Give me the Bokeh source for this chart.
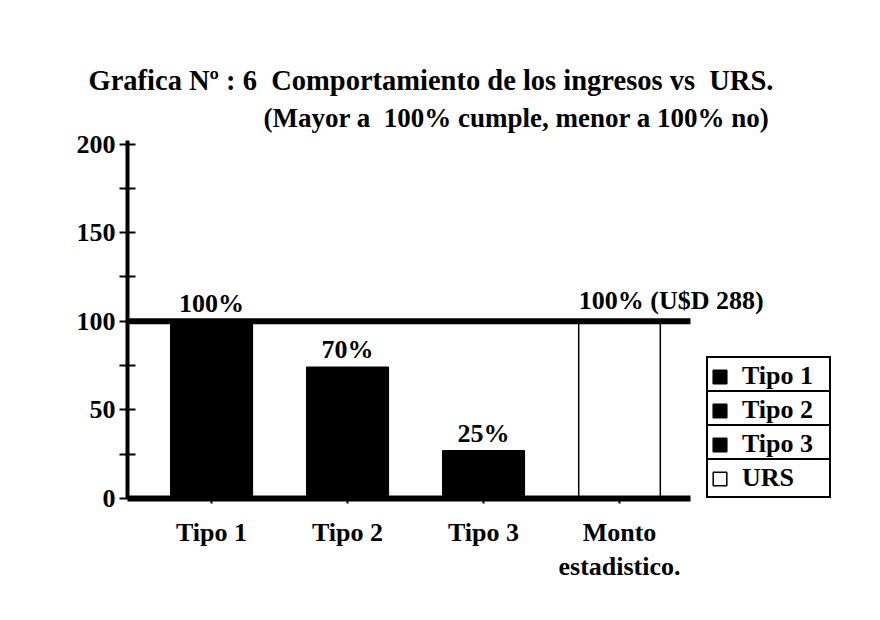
from bokeh.plotting import figure
from bokeh.models import (Range1d, LabelSet, Label, ColumnDataSource, Legend,
                          LegendItem, Title, FixedTicker)
from bokeh.embed import file_html
from bokeh.resources import INLINE

# ---- data ----
categories = ["Tipo 1", "Tipo 2", "Tipo 3", "Monto estadistico."]
tick_labels = ["Tipo 1", "Tipo 2", "Tipo 3", "Monto\nestadistico."]
legend_labels = ["Tipo 1", "Tipo 2", "Tipo 3", "URS"]
values = [100, 74, 27, 100]
bar_labels = ["100%", "70%", "25%"]
urs_label = "100% (U$D 288)"
urs_level = 100
y_ticks = [0, 50, 100, 150, 200]
y_minor = [25, 75, 125, 175]
bar_colors = ["black", "black", "black", "white"]
title_line1 = "Grafica N\u00ba : 6\u00a0 Comportamiento de los ingresos vs\u00a0 URS."
title_line2 = "(Mayor a\u00a0 100% cumple, menor a 100% no)"

FONT = "Liberation Serif"
FS = "26px"

xs = list(range(1, len(categories) + 1))
bar_w = 0.6
x_lo, x_hi = 0.382, 5.625      # view range (room on the right for the legend)
axis_end = 4.522               # where the drawn axis line / reference line stop

src = ColumnDataSource(dict(x=xs, top=values, color=bar_colors, cat=categories))
lab_src = ColumnDataSource(dict(x=xs[:3], y=values[:3], text=bar_labels))

p = figure(width=864, height=604, output_backend="svg", toolbar_location=None,
           x_range=Range1d(x_lo, x_hi), y_range=Range1d(0, 202),
           min_border_left=127, min_border_right=24, min_border_top=140,
           min_border_bottom=106)
p.grid.visible = False
p.outline_line_color = None
p.background_fill_color = "white"
p.border_fill_color = "white"

bars = p.vbar(x="x", top="top", width=bar_w, bottom=0, source=src,
              fill_color="color", line_color="black", line_width=1.5)

# reference line at 100 % (URS)
p.segment(x0=[x_lo], x1=[axis_end], y0=[urs_level], y1=[urs_level],
          line_color="black", line_width=6)

# axes
yax = p.yaxis[0]
yax.ticker = FixedTicker(ticks=y_ticks, minor_ticks=y_minor)
yax.axis_line_width = 4
yax.major_tick_in = 8
yax.major_tick_out = 8
yax.minor_tick_in = 8
yax.minor_tick_out = 8
yax.major_tick_line_width = 2
yax.minor_tick_line_width = 2
yax.major_label_standoff = 4

xax = p.xaxis[0]
xax.ticker = FixedTicker(ticks=xs)
xax.bounds = (x_lo, axis_end)
xax.major_label_overrides = {x: t for x, t in zip(xs, tick_labels)}
xax.axis_line_width = 6
xax.major_tick_in = 0
xax.major_tick_out = 5
xax.major_tick_line_width = 2
xax.major_label_standoff = 14

for ax in (xax, yax):
    ax.major_label_text_font = FONT
    ax.major_label_text_font_size = FS
    ax.major_label_text_font_style = "bold"
    ax.major_label_text_color = "black"
    ax.axis_line_color = "black"
    ax.major_tick_line_color = "black"
    ax.minor_tick_line_color = "black" if ax is yax else None

# bar value labels
p.add_layout(LabelSet(x="x", y="y", text="text", source=lab_src, y_offset=3,
                      text_align="center", text_baseline="bottom",
                      text_font=FONT, text_font_size=FS, text_font_style="bold",
                      text_color="black"))
p.add_layout(Label(x=xs[3] - bar_w / 2, y=urs_level, text=urs_label, y_offset=6,
                   text_align="left", text_baseline="bottom",
                   text_font=FONT, text_font_size=FS, text_font_style="bold",
                   text_color="black"))

# titles
p.add_layout(Title(text=title_line2, align="left", offset=136, text_font=FONT,
                   text_font_size="27px", text_font_style="bold",
                   text_color="black", standoff=15), "above")
p.add_layout(Title(text=title_line1, align="left", offset=-39, text_font=FONT,
                   text_font_size="28.5px", text_font_style="bold",
                   text_color="black", standoff=-4), "above")

# legends (one boxed row per item)
leg_bottoms = [102, 68, 34, 0]
for i, lab in enumerate(legend_labels):
    leg = Legend(items=[LegendItem(label=lab, renderers=[bars], index=i)],
                 location=(579, leg_bottoms[i]),
                 border_line_color="black", border_line_width=2,
                 border_line_alpha=1,
                 background_fill_color="white", background_fill_alpha=1,
                 padding=3, spacing=0, margin=0, label_standoff=14,
                 glyph_width=17, glyph_height=17, label_width=84, label_height=26,
                 label_text_font=FONT, label_text_font_size=FS,
                 label_text_font_style="bold", label_text_color="black")
    p.add_layout(leg)

open("out.html", "w").write(file_html(p, INLINE))
